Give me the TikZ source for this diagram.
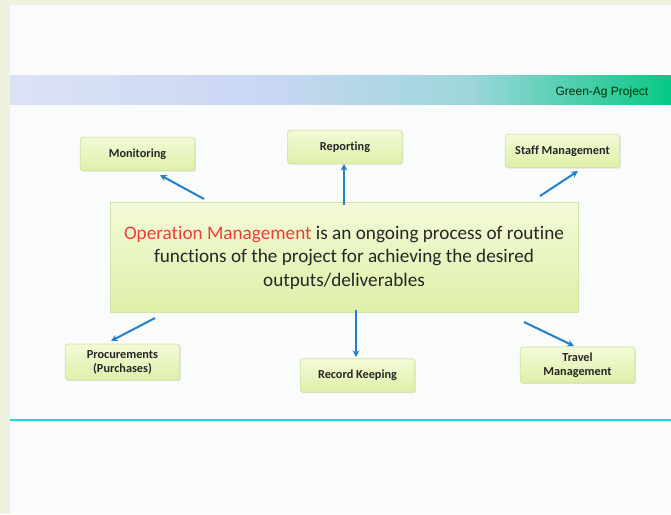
\documentclass[tikz,border=0pt]{standalone}
\usepackage{fontspec}
\setmainfont{Carlito}[Ligatures=NoCommon]
\newfontfamily\bandfont{Liberation Sans}
\usetikzlibrary{arrows.meta,shadows}

\definecolor{frame}{HTML}{EEF2DE}
\definecolor{page}{HTML}{FAFCFB}
\definecolor{boxtop}{HTML}{F3FAD8}
\definecolor{boxbot}{HTML}{DEF0A8}
\definecolor{boxline}{HTML}{D2E2A4}
\definecolor{arrowblue}{HTML}{2280CC}
\definecolor{rulecyan}{HTML}{22D4E2}
\definecolor{omred}{HTML}{F23C3C}
\definecolor{txt}{HTML}{262626}
\definecolor{bandA}{HTML}{DCE2F6}
\definecolor{bandB}{HTML}{C9D7F3}
\definecolor{bandC}{HTML}{9ED6DC}
\definecolor{bandD}{HTML}{06C884}

\tikzset{
  taskbox/.style={draw=boxline, line width=0.6pt, rounded corners=2pt,
    top color=boxtop, bottom color=boxbot,
    drop shadow={shadow xshift=0.8pt, shadow yshift=-0.8pt, opacity=0.18},
    minimum width=86pt, minimum height=25pt, align=center, text=txt,
    font=\fontsize{9.2}{10.5}\selectfont\bfseries, inner sep=1pt},
  mainbox/.style={draw=boxline, line width=0.6pt,
    top color=boxtop, bottom color=boxbot,
    drop shadow={shadow xshift=0.8pt, shadow yshift=-0.8pt, opacity=0.18},
    minimum width=351pt, minimum height=82pt, align=center, text=txt,
    font=\fontsize{14.4}{17.6}\selectfont},
  link/.style={draw=arrowblue, line width=1.5pt,
    -{Stealth[length=5pt,width=5pt]}}
}

\begin{document}
\begin{tikzpicture}[x=0.75pt, y=-0.75pt]
  % page frame and slide area
  \useasboundingbox (0,0) rectangle (671,514);
  \fill[frame] (0,0) rectangle (671,514);
  \fill[page] (10,5) rectangle (671,514);

  % title band
  \fill[left color=bandA, right color=bandB] (10,75) rectangle (265,104);
  \shade[left color=bandB, right color=bandD, middle color=bandC] (265,75) rectangle (671,104);
  \node[font=\bandfont\fontsize{9}{10}\selectfont, text=black!80!green, anchor=east] (band) at (653,92) {Green-Ag Project};

  % bottom rule
  \draw[rulecyan, line width=1.6pt] (10,420) -- (671,420);

  % central statement
  \node[mainbox] (core) at (344,257.5)
    {\textcolor{omred}{Operation Management} is an ongoing process of routine\\
     functions of the project for achieving the desired\\
     outputs/deliverables};

  % surrounding functions
  \node[taskbox] (mon)  at (137.5,154)  {Monitoring};
  \node[taskbox] (rep)  at (345,147)    {Reporting};
  \node[taskbox] (staff) at (562.5,151) {Staff Management};
  \node[taskbox, minimum height=27pt] (proc) at (122.5,362) {Procurements\\(Purchases)};
  \node[taskbox] (rec)  at (357.5,375.5) {Record Keeping};
  \node[taskbox, minimum height=27pt] (trav) at (577.5,365) {Travel\\Management};

  % arrow end points
  \coordinate (m1) at (204,199);  \coordinate (m2) at (160,175);
  \coordinate (r1) at (344,205);  \coordinate (r2) at (344,164);
  \coordinate (s1) at (540,196);  \coordinate (s2) at (578,171);
  \coordinate (p1) at (155,318);  \coordinate (p2) at (111,341);
  \coordinate (k1) at (356,310);  \coordinate (k2) at (356,357);
  \coordinate (t1) at (524,322);  \coordinate (t2) at (574,346);

  \draw[link] (m1) -- (m2);
  \draw[link] (r1) -- (r2);
  \draw[link] (s1) -- (s2);
  \draw[link] (p1) -- (p2);
  \draw[link] (k1) -- (k2);
  \draw[link] (t1) -- (t2);
\end{tikzpicture}
\end{document}
